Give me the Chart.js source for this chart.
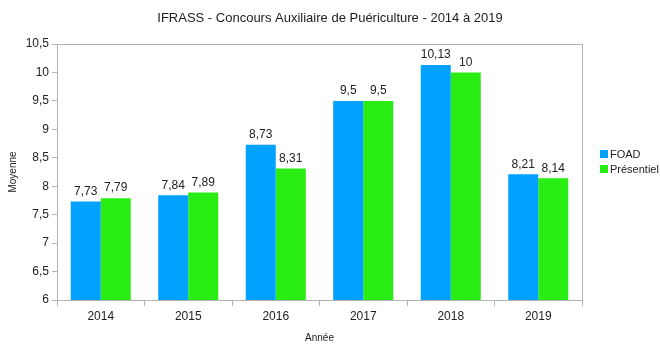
<!DOCTYPE html>
<html>
<head>
<meta charset="utf-8">
<script src="https://cdn.jsdelivr.net/npm/chart.js@4/dist/chart.umd.min.js"></script>
<style>
  html, body { margin: 0; background: #fff; }
  #wrap { width: 660px; height: 344px; }
</style>
</head>
<body>
<div id="wrap"><canvas id="myChart"></canvas></div>
<script>
// moyennes par année, FOAD vs présentiel
const years = ['2014', '2015', '2016', '2017', '2018', '2019'];
const foad = [7.73, 7.84, 8.73, 9.5, 10.13, 8.21];
const presentiel = [7.79, 7.89, 8.31, 9.5, 10, 8.14];

const fmt = v => String(v).replace('.', ',');
const axisColor = '#b3b3b3';
const family = '"Liberation Sans", Arial, sans-serif';

// cadre autour de la zone du graphique
const frame = {
    id: 'frame',
    beforeDatasetsDraw(chart) {
        const { ctx, chartArea: a } = chart;
        ctx.save();
        ctx.strokeStyle = axisColor;
        ctx.lineWidth = 1;
        ctx.strokeRect(Math.round(a.left) + 0.5, Math.round(a.top) + 0.5,
            Math.round(a.right - a.left), Math.round(a.bottom - a.top));
        ctx.restore();
    }
};

// valeurs au-dessus des barres
const valueLabels = {
    id: 'valueLabels',
    afterDatasetsDraw(chart) {
        const { ctx } = chart;
        ctx.save();
        ctx.font = '12px ' + family;
        ctx.fillStyle = '#222';
        ctx.textAlign = 'center';
        ctx.textBaseline = 'bottom';
        chart.data.datasets.forEach((ds, i) => {
            chart.getDatasetMeta(i).data.forEach((bar, j) => {
                ctx.fillText(fmt(ds.data[j]), bar.x, bar.y - 4);
            });
        });
        ctx.restore();
    }
};

// légende à droite, centrée verticalement sur la zone du graphique
const sideLegend = {
    id: 'sideLegend',
    afterDraw(chart) {
        const { ctx, chartArea: a } = chart;
        const x = a.right + 18;
        const mid = (a.top + a.bottom) / 2;
        const step = 15;
        const n = chart.data.datasets.length;
        ctx.save();
        ctx.font = '11px ' + family;
        ctx.textBaseline = 'middle';
        ctx.textAlign = 'left';
        chart.data.datasets.forEach((ds, i) => {
            const y = Math.round(mid - (n - 1) * step / 2 + i * step - 11);
            ctx.fillStyle = ds.backgroundColor;
            ctx.fillRect(x, y - 4, 8, 8);
            ctx.fillStyle = '#222';
            ctx.fillText(ds.label, x + 10, y + 0.5);
        });
        ctx.restore();
    }
};

const data = {
    labels: years,
    datasets: [
        { label: 'FOAD', data: foad, backgroundColor: '#00a1ff' },
        { label: 'Présentiel', data: presentiel, backgroundColor: '#29ed12' }
    ]
};

const config = {
    type: 'bar',
    data,
    options: {
        responsive: true,
        maintainAspectRatio: false,
        animation: false,
        datasets: { bar: { categoryPercentage: 0.686, barPercentage: 1.0 } },
        layout: { padding: 0 },
        plugins: {
            title: {
                display: true,
                text: 'IFRASS - Concours Auxiliaire de Puériculture - 2014 à 2019',
                color: '#222',
                font: { size: 13, family, weight: 'normal' },
                padding: { top: 11, bottom: 17.4 }
            },
            legend: { display: false },
            tooltip: { enabled: false }
        },
        scales: {
            x: {
                offset: true,
                grid: { offset: true, drawOnChartArea: false, color: axisColor, tickLength: 6 },
                border: { color: axisColor },
                ticks: { color: '#222', font: { size: 12, family }, padding: 3 },
                title: {
                    display: true, text: 'Année', color: '#222',
                    font: { size: 10, family },
                    padding: { top: 12, bottom: 0 }
                },
                afterFit(scale) { scale.height = 44; }
            },
            y: {
                min: 6,
                max: 10.5,
                ticks: {
                    stepSize: 0.5,
                    color: '#222',
                    font: { size: 12, family },
                    padding: 3,
                    callback: v => fmt(v)
                },
                grid: { drawOnChartArea: false, color: axisColor, tickLength: 5 },
                border: { color: axisColor },
                title: {
                    display: true, text: 'Moyenne', color: '#222',
                    font: { size: 10, family },
                    padding: { top: 7, bottom: 4 }
                },
                afterFit(scale) { scale.width = 57; }
            },
            // axe vide à droite qui réserve la place de la légende
            legendSpace: {
                type: 'linear',
                position: 'right',
                min: 0,
                max: 1,
                grid: { display: false },
                border: { display: false },
                ticks: { display: false },
                afterFit(scale) { scale.width = 78; }
            }
        }
    },
    plugins: [frame, valueLabels, sideLegend]
};

const myChart = new Chart(document.querySelector('#myChart'), config);
</script>
</body>
</html>
